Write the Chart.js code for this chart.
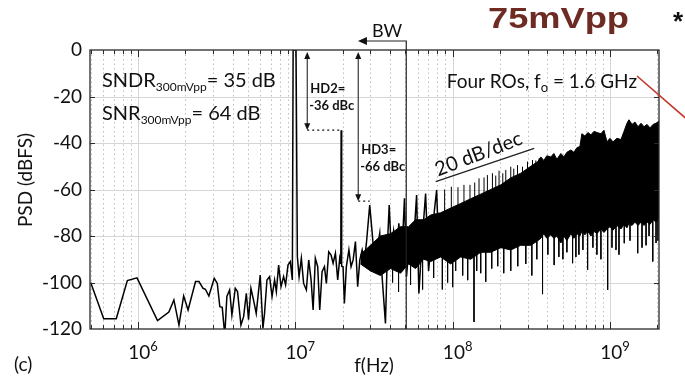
<!DOCTYPE html>
<html>
<head>
<meta charset="utf-8">
<script src="https://cdn.jsdelivr.net/npm/chart.js@4.4.0/dist/chart.umd.min.js"></script>
<style>
  html, body { margin: 0; padding: 0; background: #fff; }
  canvas { display: block; }
</style>
</head>
<body>
<canvas id="psd" width="685" height="379"></canvas>
<script>
// sparse part of the spectrum (Hz, dBFS), fundamental + HD2 + HD3 included
const lowFreq = [5.0e5, 6.05e5, 7.27e5, 8.55e5, 9.85e5, 1.33e6, 1.57e6, 1.69e6, 1.82e6, 1.95e6,
  2.08e6, 2.32e6, 2.44e6, 2.59e6, 2.68e6, 2.82e6, 3.05e6, 3.19e6, 3.31e6, 3.43e6,
  3.53e6, 3.58e6, 3.67e6, 3.82e6, 3.95e6, 4.15e6, 4.29e6, 4.51e6, 4.69e6, 4.88e6,
  5.04e6, 5.22e6, 5.42e6, 5.64e6, 5.98e6, 6.22e6, 6.37e6, 6.60e6, 6.86e6, 7.11e6,
  7.38e6, 7.57e6, 7.83e6, 8.11e6, 8.42e6, 8.67e6, 8.98e6, 9.29e6, 9.57e6, 9.68e6,
  1.01e7, 1.03e7, 1.056e7, 1.092e7, 1.129e7, 1.175e7, 1.216e7, 1.259e7, 1.297e7, 1.34e7,
  1.387e7, 1.429e7, 1.479e7, 1.531e7, 1.575e7, 1.63e7, 1.687e7, 1.738e7, 1.798e7, 1.859e7,
  1.915e7, 1.945e7, 1.955e7, 1.97e7, 2.01e7, 2.05e7, 2.11e7, 2.19e7, 2.26e7, 2.33e7,
  2.41e7, 2.49e7, 2.57e7, 2.66e7, 2.75e7, 2.83e7, 2.97e7, 3.08e7, 3.18e7, 3.31e7,
  3.44e7, 3.56e7, 3.74e7, 3.87e7, 3.95e7, 4.07e7, 4.21e7, 4.37e7, 4.55e7, 4.73e7,
  4.94e7, 5.09e7, 5.32e7, 5.56e7, 5.90e7, 6.10e7, 6.35e7, 6.73e7, 7.03e7, 7.35e7,
  7.91e7, 8.1e7];
const lowPsd = [-100, -115.6, -115.6, -99.2, -98, -116.4, -112.7, -107.5, -118.3, -105.8,
  -111.8, -99.6, -99.6, -102.5, -102.9, -105.8, -98.2, -100.4, -110.4, -110.7,
  -120, -119.6, -106, -103.2, -114, -102.5, -103.9, -118.3, -114.7, -104.7,
  -116, -102.5, -107.5, -113.3, -96.8, -119.7, -113.3, -98.9, -97.5, -106,
  -98.9, -103.9, -92.5, -101.8, -97.5, -101, -92.5, -91, -98.9, 0,
  0, -88.9, -97.5, -89.6, -100.4, -103.2, -90.3, -98.9, -111.8, -89.6,
  -93.2, -111.8, -95.3, -93.2, -100.4, -86.8, -88.2, -91.7, -87.4, -98.9,
  -89.6, -92, -34.5, -93, -93.2, -109, -93.2, -86, -93.2, -90.3,
  -82.4, -101.8, -90.3, -86, -90.3, -83.1, -66.7, -78.8, -90.3, -86,
  -78.8, -97.5, -117.6, -80.3, -66.7, -86, -78, -90, -74.5, -92,
  -63.8, -97.5, -82, -90, -62.4, -104.7, -85, -61.7, -95, -80,
  -60.2, -80];

// dense noise band above ~25 MHz: upper and lower edge
const bandFreq = [2.594e7, 3.0e7, 3.478e7, 4.028e7, 4.665e7, 5.245e7, 5.81e7, 6.537e7, 7.243e7, 8.386e7,
  9.71e7, 1.125e8, 1.302e8, 1.508e8, 1.746e8, 2.022e8, 2.341e8, 2.711e8, 3.139e8, 3.478e8,
  3.635e8, 3.798e8, 3.969e8, 4.209e8, 4.398e8, 4.597e8, 4.875e8, 5.093e8, 5.323e8, 5.644e8,
  5.898e8, 6.164e8, 6.44e8, 6.63e8, 6.93e8, 7.241e8, 7.57e8, 7.91e8, 8.266e8, 8.76e8,
  9.16e8, 9.57e8, 1.0e9, 1.045e9, 1.108e9, 1.175e9, 1.228e9, 1.283e9, 1.321e9, 1.381e9,
  1.443e9, 1.508e9, 1.576e9, 1.647e9, 1.721e9, 1.798e9, 1.879e9, 1.963e9, 2.051e9, 2.176e9];
const bandTop = [-88, -84, -80, -79, -76, -76, -73, -73, -71, -70,
  -68, -66, -64, -62, -60, -58, -55, -53, -50, -48,
  -46, -47.5, -45.5, -46, -44.5, -47, -44.5, -46, -44, -43,
  -44, -42, -41.5, -36, -37, -35.5, -36.5, -35, -35.5, -36,
  -34.5, -39.5, -38, -39.5, -38, -38.5, -35, -31.5, -30, -32,
  -31, -33, -31.5, -33, -32, -33.5, -32, -31.5, -30.5, -32.5];
const bandBottom = [-92, -95, -97, -94, -96, -92, -94, -90, -91, -89,
  -92, -89, -90, -87, -87, -85, -86, -84, -84, -82,
  -81, -79, -81, -79.5, -81, -80, -83, -80, -82, -79,
  -81, -79, -80, -78, -79.5, -78, -80, -78, -79, -77,
  -78.5, -77, -76, -77.5, -75.5, -77, -75, -76.5, -74.5, -75.5,
  -74, -75.5, -74, -75.5, -74, -75, -73, -74, -72, -72];

// isolated spikes sticking out of the band
const spikeUpFreq = [8.89e7, 9.81e7, 1.081e8, 1.18e8, 1.289e8, 1.381e8, 1.471e8, 1.583e8, 1.663e8, 1.79e8,
  1.879e8, 1.972e8, 2.083e8, 2.176e8, 2.341e8, 2.446e8, 2.584e8, 2.78e8, 2.991e8, 3.218e8,
  3.379e8, 3.545e8];
const spikeUpPsd = [-60, -58.8, -59, -58, -58, -57, -55.2, -54.8, -53.8, -53,
  -54, -51.9, -53, -51.6, -50.2, -51, -49.5, -50.2, -48, -47.3,
  -47.5, -46.6];
const spikeDownFreq = [4.15e7, 4.53e7, 5.40e7, 6.44e7, 7.57e7, 8.6e7, 9.29e7, 1.0e8, 1.045e8, 1.158e8,
  1.246e8, 1.367e8, 1.422e8, 1.508e8, 1.623e8, 1.772e8, 1.935e8, 2.112e8, 2.341e8, 2.594e8,
  2.917e8, 3.186e8, 3.428e8, 3.727e8, 4.03e8, 4.418e8, 4.734e8, 5.02e8, 5.323e8, 5.787e8,
  6.074e8, 6.346e8, 6.73e8, 7.21e8, 7.79e8, 8.26e8, 8.76e8, 9.67e8, 1.03e9, 1.092e9,
  1.141e9, 1.233e9, 1.341e9, 1.501e9, 1.599e9, 1.696e9, 1.772e9, 1.871e9, 1.963e9, 2.02e9];
const spikeDownPsd = [-100, -104, -101, -103, -98, -103, -100, -102, -95, -97,
  -99, -117, -95, -96, -99.7, -94, -93, -96, -95, -93,
  -92, -97, -90, -105, -88, -92.5, -89, -90, -87, -91.7,
  -89, -88, -86, -94.6, -85, -88, -90, -103.2, -85, -86,
  -88, -83.1, -82, -87.4, -85, -84, -80, -91, -83, -82];

const yTicks = [0, -20, -40, -60, -80, -100, -120];
const xDecades = [6, 7, 8, 9];

const FONT = 'Lato, "Open Sans", sans-serif';

function pts(fs, vs) { return fs.map((f, i) => ({ x: f, y: vs[i] })); }

function bandMid(f) {
  let best = 0;
  for (let i = 1; i < bandFreq.length; i++) {
    if (Math.abs(Math.log(bandFreq[i] / f)) < Math.abs(Math.log(bandFreq[best] / f))) best = i;
  }
  return (bandTop[best] + bandBottom[best]) / 2;
}

function spikePts() {
  const out = [];
  const add = (fs, vs) => fs.forEach((f, i) => {
    out.push({ x: f, y: bandMid(f) }, { x: f, y: vs[i] }, { x: f, y: NaN });
  });
  add(spikeUpFreq, spikeUpPsd);
  add(spikeDownFreq, spikeDownPsd);
  return out;
}

function textParts(ctx, x, y, parts) {
  // parts: [text, px size, dy]
  let cx = x;
  parts.forEach(([t, size, dy]) => {
    ctx.font = size + 'px ' + FONT;
    ctx.fillText(t, cx, y + dy);
    cx += ctx.measureText(t).width;
  });
  return cx - x;
}

function partsWidth(ctx, parts) {
  let w = 0;
  parts.forEach(([t, size]) => { ctx.font = size + 'px ' + FONT; w += ctx.measureText(t).width; });
  return w;
}

function arrowHead(ctx, x, y, dir) {
  ctx.beginPath();
  if (dir === 'up') { ctx.moveTo(x, y); ctx.lineTo(x - 3, y + 7); ctx.lineTo(x + 3, y + 7); }
  if (dir === 'down') { ctx.moveTo(x, y); ctx.lineTo(x - 3, y - 7); ctx.lineTo(x + 3, y - 7); }
  if (dir === 'left') { ctx.moveTo(x, y); ctx.lineTo(x + 9, y - 4); ctx.lineTo(x + 9, y + 4); }
  ctx.closePath();
  ctx.fill();
}

const psdDeco = {
  id: 'psdDeco',
  beforeDatasetsDraw(chart) {
    const { ctx, chartArea: a, scales: { x, y } } = chart;
    ctx.save();
    ctx.lineWidth = 1;
    // minor dotted grid
    ctx.strokeStyle = '#bdbdbd';
    ctx.setLineDash([1.5, 3]);
    for (let n = 5; n <= 9; n++) {
      for (let k = 2; k <= 9; k++) {
        const v = k * Math.pow(10, n);
        if (v <= x.min || v >= x.max) continue;
        const px = Math.round(x.getPixelForValue(v)) + 0.5;
        ctx.beginPath(); ctx.moveTo(px, a.top); ctx.lineTo(px, a.bottom); ctx.stroke();
      }
    }
    ctx.setLineDash([]);
    ctx.strokeStyle = '#d6d6d6';
    xDecades.forEach(n => {
      const px = Math.round(x.getPixelForValue(Math.pow(10, n))) + 0.5;
      ctx.beginPath(); ctx.moveTo(px, a.top); ctx.lineTo(px, a.bottom); ctx.stroke();
    });
    yTicks.slice(1, -1).forEach(v => {
      const py = Math.round(y.getPixelForValue(v)) + 0.5;
      ctx.beginPath(); ctx.moveTo(a.left, py); ctx.lineTo(a.right, py); ctx.stroke();
    });
    ctx.restore();
  },
  afterDraw(chart) {
    const { ctx, chartArea: a, scales: { x, y } } = chart;
    ctx.save();

    // frame + inward ticks
    ctx.strokeStyle = '#2a2a2a';
    ctx.lineWidth = 1.3;
    ctx.strokeRect(a.left, a.top, a.right - a.left, a.bottom - a.top);
    ctx.lineWidth = 1;
    for (let n = 5; n <= 9; n++) {
      for (let k = 1; k <= 9; k++) {
        const v = k * Math.pow(10, n);
        if (v <= x.min || v >= x.max) continue;
        const px = Math.round(x.getPixelForValue(v)) + 0.5;
        const len = k === 1 ? 7 : 4;
        ctx.beginPath();
        ctx.moveTo(px, a.bottom); ctx.lineTo(px, a.bottom - len);
        ctx.moveTo(px, a.top); ctx.lineTo(px, a.top + len);
        ctx.stroke();
      }
    }
    yTicks.slice(1, -1).forEach(v => {
      const py = Math.round(y.getPixelForValue(v)) + 0.5;
      ctx.beginPath();
      ctx.moveTo(a.right, py); ctx.lineTo(a.right - 5, py);
      ctx.moveTo(a.left, py); ctx.lineTo(a.left + 5, py);
      ctx.stroke();
    });

    // x tick labels 10^n
    ctx.fillStyle = '#111';
    ctx.textBaseline = 'alphabetic';
    ctx.textAlign = 'left';
    xDecades.forEach(n => {
      const px = x.getPixelForValue(Math.pow(10, n));
      const parts = [['10', 19, 0], [String(n), 13, -8]];
      const w = partsWidth(ctx, parts);
      textParts(ctx, px + 5 - w / 2, 359, parts);
    });

    // axis titles
    ctx.font = '19px ' + FONT;
    ctx.textAlign = 'center';
    ctx.fillText('f(Hz)', 374, 372);
    ctx.textAlign = 'left';
    ctx.fillText('(c)', 14, 371);
    ctx.save();
    ctx.translate(32, 180);
    ctx.rotate(-Math.PI / 2);
    ctx.textAlign = 'center';
    ctx.fillText('PSD (dBFS)', 0, 0);
    ctx.restore();

    // SNDR / SNR
    ctx.textAlign = 'left';
    textParts(ctx, 102, 86.5, [['SNDR', 20, 0], ['300mVpp', 12, 4], ['= 35 dB', 20, 0]]);
    textParts(ctx, 102, 120, [['SNR', 20, 0], ['300mVpp', 12, 4], ['= 64 dB', 20, 0]]);

    // Four ROs
    const fro = [['Four ROs, f', 19, 0], ['o', 13, 4], [' = 1.6 GHz', 19, 0]];
    textParts(ctx, 637 - partsWidth(ctx, fro), 88, fro);

    // HD2 / HD3 markers
    const top = y.getPixelForValue(0) + 2;
    const hd2x = x.getPixelForValue(1.19e7), hd2y = y.getPixelForValue(-34.5);
    const hd3x = x.getPixelForValue(2.51e7), hd3y = y.getPixelForValue(-65);
    ctx.strokeStyle = '#111';
    ctx.lineWidth = 1;
    [[hd2x, hd2y], [hd3x, hd3y]].forEach(([px, py]) => {
      ctx.beginPath(); ctx.moveTo(px, top + 4); ctx.lineTo(px, py - 4); ctx.stroke();
      arrowHead(ctx, px, top, 'up');
      arrowHead(ctx, px, py, 'down');
    });
    ctx.setLineDash([2, 3]);
    ctx.lineWidth = 1.2;
    ctx.beginPath();
    ctx.moveTo(hd2x, hd2y); ctx.lineTo(x.getPixelForValue(1.955e7), hd2y);
    ctx.moveTo(hd3x, hd3y); ctx.lineTo(x.getPixelForValue(2.97e7), hd3y);
    ctx.stroke();
    ctx.setLineDash([]);
    ctx.font = 'bold 13px ' + FONT;
    ctx.fillText('HD2=', hd2x + 3, 93);
    ctx.fillText('-36 dBc', hd2x + 2, 110);
    ctx.fillText('HD3=', hd3x + 3, 154);
    ctx.fillText('-66 dBc', hd3x + 2, 171);

    // BW marker
    const bwx = x.getPixelForValue(5.07e7);
    const bwy = a.top - 9;
    ctx.lineWidth = 1.2;
    ctx.strokeStyle = '#222';
    ctx.beginPath();
    ctx.moveTo(bwx, a.bottom); ctx.lineTo(bwx, bwy); ctx.lineTo(x.getPixelForValue(2.5e7) + 6, bwy);
    ctx.stroke();
    arrowHead(ctx, x.getPixelForValue(2.5e7), bwy, 'left');
    ctx.font = '18px ' + FONT;
    ctx.textAlign = 'center';
    ctx.fillText('BW', 387, 37);

    // 20 dB/dec slope
    const sx1 = x.getPixelForValue(7.8e7), sy1 = y.getPixelForValue(-56.6);
    const sx2 = x.getPixelForValue(3.3e8), sy2 = y.getPixelForValue(-42.3);
    ctx.lineWidth = 1.3;
    ctx.beginPath(); ctx.moveTo(sx1, sy1); ctx.lineTo(sx2, sy2); ctx.stroke();
    ctx.save();
    ctx.translate((sx1 + sx2) / 2, (sy1 + sy2) / 2);
    ctx.rotate(Math.atan2(sy2 - sy1, sx2 - sx1) - 0.04);
    ctx.font = '20px ' + FONT;
    ctx.fillText('20 dB/dec', -2, -6);
    ctx.restore();

    // title and red pointer
    ctx.save();
    ctx.translate(488, 28);
    ctx.scale(1.25, 1);
    ctx.font = 'bold 29px "Liberation Sans", Arial, sans-serif';
    ctx.textAlign = 'left';
    ctx.fillStyle = '#6e2b23';
    ctx.fillText('75mVpp', 0, 0);
    ctx.restore();
    ctx.font = 'bold 26px "Liberation Sans", Arial, sans-serif';
    ctx.textAlign = 'left';
    ctx.fillStyle = '#111';
    ctx.fillText('*', 673, 30);
    ctx.strokeStyle = '#c0392b';
    ctx.lineWidth = 1.6;
    ctx.beginPath(); ctx.moveTo(637, 76); ctx.lineTo(690, 122); ctx.stroke();

    ctx.restore();
  }
};

new Chart(document.getElementById('psd'), {
  type: 'line',
  data: {
    datasets: [
      { data: pts(bandFreq, bandTop), borderColor: '#000', borderWidth: 1, pointRadius: 0, fill: false },
      { data: pts(bandFreq, bandBottom), borderColor: '#000', borderWidth: 1, pointRadius: 0, fill: '-1', backgroundColor: '#000' },
      { data: spikePts(), borderColor: '#000', borderWidth: 1, pointRadius: 0, fill: false, spanGaps: false },
      { data: pts(lowFreq, lowPsd), borderColor: '#000', borderWidth: 1.5, pointRadius: 0, fill: false }
    ]
  },
  options: {
    responsive: false,
    devicePixelRatio: 1,
    animation: false,
    layout: { padding: { top: 50, right: 26, left: 0, bottom: 0 } },
    plugins: { legend: { display: false }, tooltip: { enabled: false } },
    scales: {
      x: {
        type: 'logarithmic',
        min: 4.95e5,
        max: 2.05e9,
        grid: { display: false, drawTicks: false },
        border: { display: false },
        ticks: { display: false },
        afterFit(s) { s.height = 50; }
      },
      y: {
        min: -120,
        max: 0,
        grid: { display: false, drawTicks: false },
        border: { display: false },
        ticks: { stepSize: 20, padding: 8, color: '#111', font: { family: FONT, size: 19 } },
        afterFit(s) { s.width = 90; }
      }
    }
  },
  plugins: [psdDeco]
});
</script>
</body>
</html>
